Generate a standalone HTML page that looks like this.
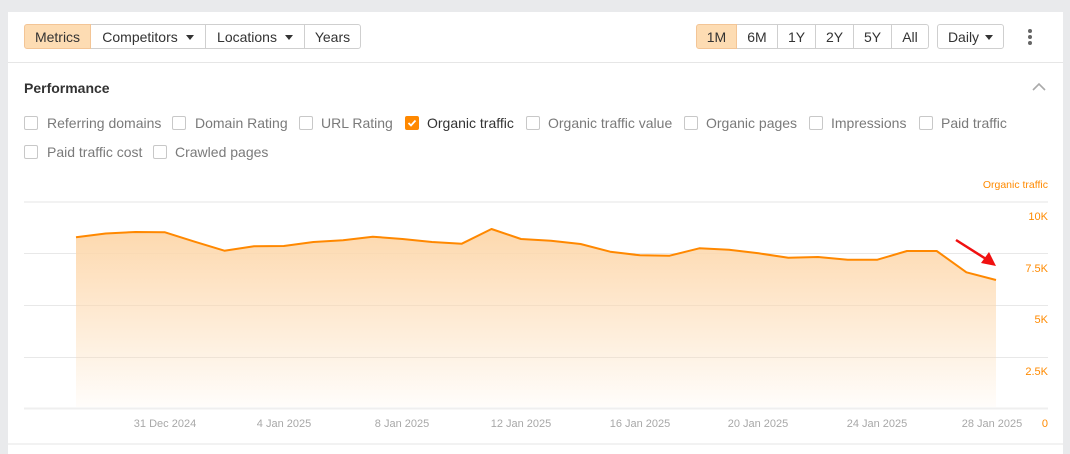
<!DOCTYPE html>
<html><head><meta charset="utf-8"><style>
*{margin:0;padding:0;box-sizing:border-box}
body{width:1070px;height:454px;background:#e9eaec;font-family:"Liberation Sans",Arial,sans-serif;position:relative;overflow:hidden}
.card{position:absolute;left:8px;top:12px;width:1055px;height:442px;background:#fff}
.a{position:absolute}
.btn{position:absolute;top:24px;height:25px;border:1px solid #cfcfcf;background:#fff;font-size:14px;color:#333;line-height:24px;text-align:center}
.sel{background:#fddcb3;border-color:#f3c596;z-index:2}
.tri{display:inline-block;width:0;height:0;border-left:4px solid transparent;border-right:4px solid transparent;border-top:5px solid #333;vertical-align:middle;margin-left:8px;margin-top:-2px}
.cb{position:absolute;width:14px;height:14px;border:1px solid #c8c8c8;border-radius:2px;background:#fff}
.lb{position:absolute;font-size:14px;color:#7a7a7a;line-height:16px;white-space:nowrap}
.yl{position:absolute;font-size:11px;color:#ff8a00;right:22px;text-align:right;line-height:12px}
.xl{position:absolute;font-size:11px;color:#a8a8a8;top:418px;line-height:12px;white-space:nowrap;transform:translateX(-50%)}
</style></head><body>
<div class="card"></div>
<!-- left button group -->
<div class="btn sel" style="left:24px;width:67px;border-radius:3px 0 0 3px">Metrics</div>
<div class="btn" style="left:90px;width:116px">Competitors<span class="tri"></span></div>
<div class="btn" style="left:205px;width:100px">Locations<span class="tri"></span></div>
<div class="btn" style="left:304px;width:57px;border-radius:0 3px 3px 0">Years</div>
<!-- right group -->
<div class="btn sel" style="left:696px;width:41px;border-radius:3px 0 0 3px">1M</div>
<div class="btn" style="left:736px;width:42px">6M</div>
<div class="btn" style="left:777px;width:39px">1Y</div>
<div class="btn" style="left:815px;width:39px">2Y</div>
<div class="btn" style="left:853px;width:39px">5Y</div>
<div class="btn" style="left:891px;width:38px;border-radius:0 3px 3px 0">All</div>
<div class="btn" style="left:937px;width:67px;border-radius:3px">Daily<span class="tri" style="margin-left:6px"></span></div>
<svg class="a" style="left:1025px;top:27px" width="10" height="20"><circle cx="5" cy="4" r="2" fill="#666"/><circle cx="5" cy="10" r="2" fill="#666"/><circle cx="5" cy="16" r="2" fill="#666"/></svg>
<div class="a" style="left:8px;top:62px;width:1055px;height:1px;background:#e6e6e6"></div>
<div class="a" style="left:24px;top:80px;font-size:14px;font-weight:bold;color:#333">Performance</div>
<svg class="a" style="left:1031px;top:81px" width="16" height="12"><polyline points="2,9 8,3 14,9" fill="none" stroke="#aaa" stroke-width="1.6"/></svg>
<!-- checkboxes -->
<div class="cb" style="left:24px;top:116px"></div><div class="lb" style="left:47px;top:115px">Referring domains</div>
<div class="cb" style="left:172px;top:116px"></div><div class="lb" style="left:195px;top:115px">Domain Rating</div>
<div class="cb" style="left:299px;top:116px"></div><div class="lb" style="left:321px;top:115px">URL Rating</div>
<div class="cb" style="left:405px;top:116px;background:#ff8800;border-color:#ff8800"><svg width="12" height="12" style="position:absolute;left:0;top:0"><polyline points="2.5,6 5,8.5 9.5,3.5" fill="none" stroke="#fff" stroke-width="1.8"/></svg></div><div class="lb" style="left:427px;top:115px;color:#333">Organic traffic</div>
<div class="cb" style="left:526px;top:116px"></div><div class="lb" style="left:548px;top:115px">Organic traffic value</div>
<div class="cb" style="left:684px;top:116px"></div><div class="lb" style="left:706px;top:115px">Organic pages</div>
<div class="cb" style="left:809px;top:116px"></div><div class="lb" style="left:831px;top:115px">Impressions</div>
<div class="cb" style="left:919px;top:116px"></div><div class="lb" style="left:941px;top:115px">Paid traffic</div>
<div class="cb" style="left:24px;top:145px"></div><div class="lb" style="left:47px;top:144px">Paid traffic cost</div>
<div class="cb" style="left:153px;top:145px"></div><div class="lb" style="left:175px;top:144px">Crawled pages</div>
<!-- chart -->
<svg class="a" style="left:0;top:0" width="1070" height="454">
<defs><linearGradient id="g" gradientUnits="userSpaceOnUse" x1="0" y1="228" x2="0" y2="408"><stop offset="0" stop-color="#fdd8ad"/><stop offset="1" stop-color="#fdd8ad" stop-opacity="0.05"/></linearGradient></defs>
<rect x="24" y="201" width="1024" height="2" fill="#f2f2f2"/>
<rect x="24" y="253" width="1024" height="1" fill="#e8e8e8"/>
<rect x="24" y="305" width="1024" height="1" fill="#e8e8e8"/>
<rect x="24" y="357" width="1024" height="1" fill="#e8e8e8"/>
<path d="M76,237.3 L105.7,233.5 L135.4,232 L165,232.3 L194.7,241.7 L224.4,250.7 L254,246.3 L283.8,246 L313.4,242 L343,240.3 L372.8,236.7 L402.5,239 L432,242 L461.8,243.7 L491.5,229 L521,239 L550.9,240.7 L580.6,244 L610.2,251.7 L640,255.3 L669.6,255.7 L699.3,248.3 L729,249.7 L758.6,253.3 L788.3,257.7 L818,257 L847.7,259.7 L877.4,259.7 L907,251 L936.7,251 L966.4,272.3 L996,280 L996,407 L76,407 Z" fill="url(#g)"/>
<polyline points="76,237.3 105.7,233.5 135.4,232 165,232.3 194.7,241.7 224.4,250.7 254,246.3 283.8,246 313.4,242 343,240.3 372.8,236.7 402.5,239 432,242 461.8,243.7 491.5,229 521,239 550.9,240.7 580.6,244 610.2,251.7 640,255.3 669.6,255.7 699.3,248.3 729,249.7 758.6,253.3 788.3,257.7 818,257 847.7,259.7 877.4,259.7 907,251 936.7,251 966.4,272.3 996,280" fill="none" stroke="#ff8800" stroke-width="2" stroke-linejoin="round"/>
<rect x="24" y="407.5" width="1024" height="2" fill="#efefef"/>
<line x1="956" y1="240" x2="986" y2="259" stroke="#f01010" stroke-width="2.5"/>
<polygon points="996,266 981,263 989,252" fill="#f01010"/>
<rect x="8" y="443.5" width="1055" height="1" fill="#e6e6e6"/>
</svg>
<div class="yl" style="top:179px;font-size:10.5px">Organic traffic</div>
<div class="yl" style="top:211px">10K</div>
<div class="yl" style="top:263px">7.5K</div>
<div class="yl" style="top:314px">5K</div>
<div class="yl" style="top:366px">2.5K</div>
<div class="yl" style="top:418px">0</div>
<div class="xl" style="left:165px">31 Dec 2024</div>
<div class="xl" style="left:284px">4 Jan 2025</div>
<div class="xl" style="left:402px">8 Jan 2025</div>
<div class="xl" style="left:521px">12 Jan 2025</div>
<div class="xl" style="left:640px">16 Jan 2025</div>
<div class="xl" style="left:758px">20 Jan 2025</div>
<div class="xl" style="left:877px">24 Jan 2025</div>
<div class="xl" style="left:992px">28 Jan 2025</div>
</body></html>
